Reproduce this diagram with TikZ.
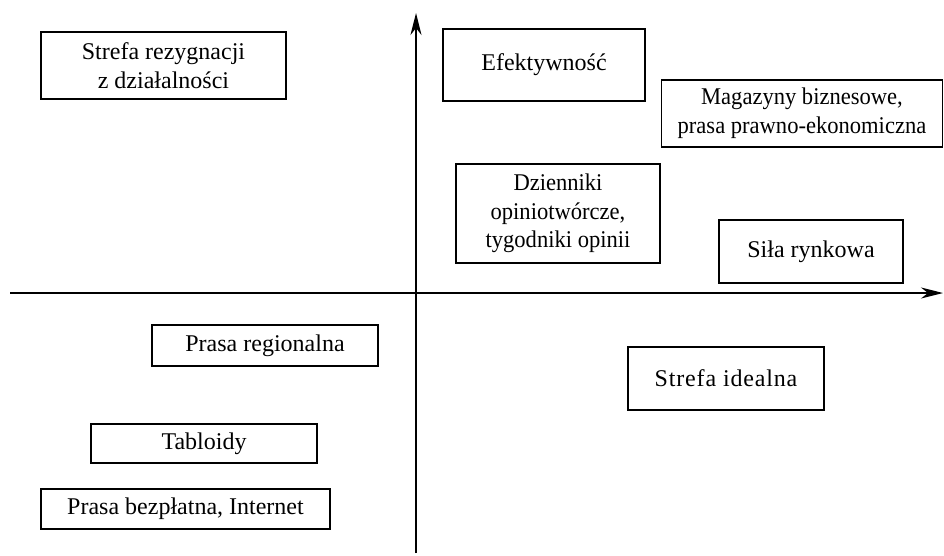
\documentclass[tikz,border=0pt]{standalone}
\usepackage{fontspec}
\setmainfont{Liberation Serif}
\newfontfamily\narrowserif[FakeStretch=0.94]{Liberation Serif}
\newfontfamily\widespaced[LetterSpace=3.5]{Liberation Serif}
\usetikzlibrary{arrows.meta}
\begin{document}
\begin{tikzpicture}[x=1pt,y=-1pt,
  box/.style={draw, line width=1.8pt, inner sep=0pt, align=center,
    font=\fontsize{24}{28.5}\selectfont},
  axis/.style={line width=1.8pt, -{Stealth[length=22pt,width=11pt,inset=7pt]}}]
\useasboundingbox (0,0) rectangle (944,555);
\coordinate (xs) at (10,293);
\coordinate (xe) at (943,293);
\coordinate (ys) at (416,553);
\coordinate (ye) at (416,13);
\draw[axis] (xs) -- (xe);
\draw[axis] (ys) -- (ye);
\node[box, minimum width=245, minimum height=67] (rez) at (163.5,65.5) {Strefa rezygnacji\\z działalności};
\node[box, minimum width=202, minimum height=72] (efe) at (544,65) {Efektywność};
\node[box, minimum width=281, minimum height=67, font=\fontsize{24}{29}\narrowserif] (mag) at (802,113.5) {Magazyny biznesowe,\\prasa prawno-ekonomiczna};
\node[box, minimum width=204, minimum height=99, font=\fontsize{24}{28.5}\narrowserif] (dzi) at (558,213.5) {Dzienniki\\opiniotwórcze,\\tygodniki opinii};
\node[box, minimum width=184, minimum height=63] (sil) at (811,251.5) {Siła rynkowa};
\node[box, minimum width=196, minimum height=63, font=\fontsize{24}{28.5}\widespaced] (ide) at (726,378.5) {Strefa idealna};
\node[box, minimum width=226, minimum height=41] (reg) at (265,345.5) {Prasa regionalna};
\node[box, minimum width=226, minimum height=39] (tab) at (204,443.5) {Tabloidy};
\node[box, minimum width=289, minimum height=40] (bez) at (185.5,509) {Prasa bezpłatna, Internet};
\end{tikzpicture}
\end{document}
